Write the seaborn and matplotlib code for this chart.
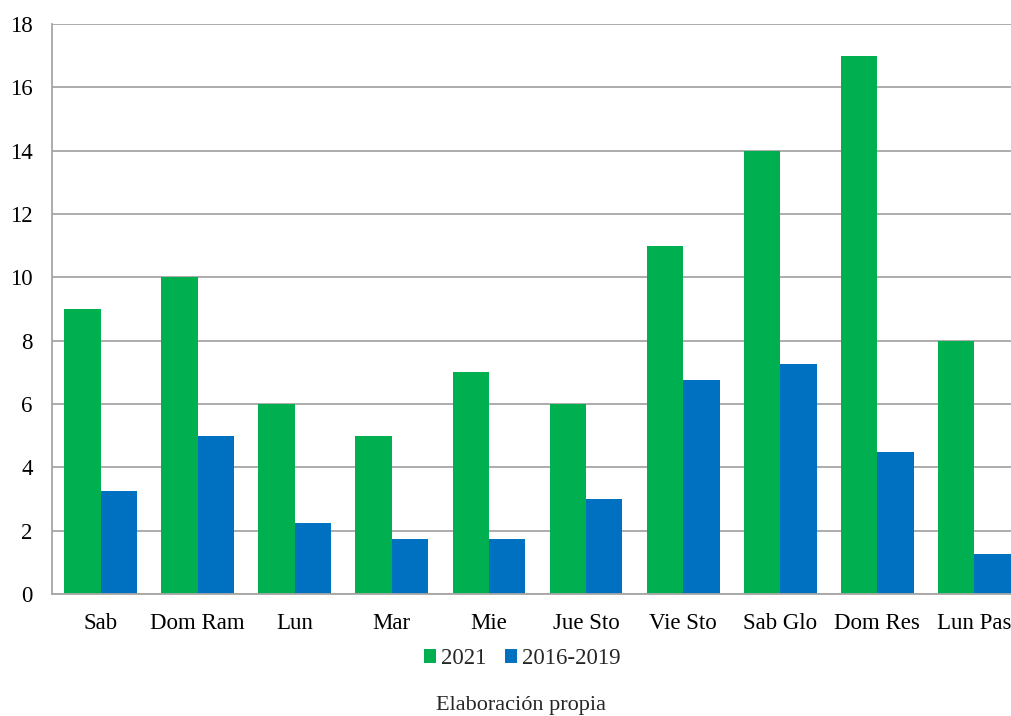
import pandas as pd
import numpy as np
import seaborn as sns
from matplotlib import pyplot as plt

dias = ['Sab', 'Dom Ram', 'Lun', 'Mar', 'Mie', 'Jue Sto', 'Vie Sto', 'Sab Glo', 'Dom Res', 'Lun Pas']
v2021 = [9, 10, 6, 5, 7, 6, 11, 14, 17, 8]
v2016_2019 = [3.25, 5, 2.25, 1.75, 1.75, 3, 6.75, 7.25, 4.5, 1.25]
series = ['2021', '2016-2019']
colores = {'2021': '#00B050', '2016-2019': '#0070C0'}

data = pd.DataFrame({
    'dia': dias * 2,
    'serie': [series[0]] * len(dias) + [series[1]] * len(dias),
    'valor': v2021 + v2016_2019,
})

sns.set_style('white')
plt.rcParams['font.family'] = ['Liberation Serif', 'DejaVu Serif']

fig = plt.figure(figsize=(10.12, 7.16), dpi=100)
ax = fig.add_axes([52 / 1012, 1 - 594 / 716, 971 / 1012, 570 / 716])

sns.barplot(data=data, x='dia', y='valor', hue='serie', palette=colores,
            width=0.75, saturation=1, linewidth=0, ax=ax, legend=True)

ax.set_ylim(0, 18)
ax.set_xlim(-0.5, len(dias) - 0.5)
ax.set_yticks(np.arange(0, 19, 2))
ax.yaxis.grid(True, color='#A6A6A6', linewidth=1.3)
ax.set_axisbelow(True)
ax.set_xlabel('')
ax.set_ylabel('')

for s in ['top', 'right']:
    ax.spines[s].set_visible(False)
for s in ['left', 'bottom']:
    ax.spines[s].set_color('#A6A6A6')
    ax.spines[s].set_linewidth(1.3)

ax.tick_params(axis='y', length=0, pad=14, labelsize=16.5, colors='black')
ax.tick_params(axis='x', which='major', length=0, pad=14, labelsize=16.5, colors='black')
ax.set_xticks(np.arange(-0.5, len(dias), 1), minor=True)
ax.tick_params(axis='x', which='minor', length=7, width=1.3, color='#A6A6A6', direction='out')

handles, labels = ax.get_legend_handles_labels()
ax.get_legend().remove()
fig.legend(handles, labels, loc='center', bbox_to_anchor=(0.516, 1 - 659 / 716), ncol=2,
           frameon=False, fontsize=16.5, handlelength=0.55, handleheight=0.55,
           handletextpad=0.2, columnspacing=0.8)

fig.text(0.515, 6 / 716, 'Elaboración propia', ha='center', va='baseline', fontsize=16)

fig.savefig('out.png', dpi=100)
